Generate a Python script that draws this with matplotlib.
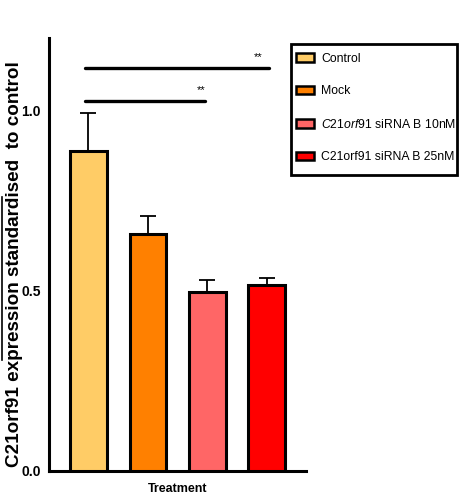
import matplotlib
matplotlib.use("Agg")
import matplotlib.pyplot as plt
from matplotlib.patches import Patch, Rectangle
from matplotlib.lines import Line2D

plt.rcParams['mathtext.fontset'] = 'custom'
plt.rcParams['mathtext.rm'] = 'Liberation Sans'
plt.rcParams['mathtext.it'] = 'Liberation Sans:italic'
plt.rcParams['mathtext.bf'] = 'Liberation Sans:bold'

narrow = ['Liberation Sans Narrow', 'Liberation Sans', 'DejaVu Sans']
wide = ['Liberation Sans', 'DejaVu Sans']

categories = ['Control', 'Mock', 'C21orf91 siRNA B 10nM', 'C21orf91 siRNA B 25nM']
values = [0.886, 0.656, 0.495, 0.514]
errors = [0.107, 0.050, 0.033, 0.021]
colors = ['#FFCC66', '#FF8000', '#FF6666', '#FF0000']
yticks = [0.0, 0.5, 1.0]
ytick_labels = ['0.0', '0.5', '1.0']
sig_pairs = [(0, 2, 1.025), (0, 3, 1.116)]
sig_text = '**'

fig = plt.figure(figsize=(4.62, 4.95), dpi=100)
ax = fig.add_axes([0.106, 0.049, 0.556, 0.874])

x = list(range(len(categories)))
ax.bar(x, values, width=0.62, color=colors, edgecolor='black', linewidth=2.2, zorder=3)
ax.errorbar(x, values, yerr=[[0]*len(errors), errors], fmt='none', ecolor='black',
            elinewidth=1.3, capsize=5.5, capthick=1.3, zorder=2)

line_ends = {2: -0.04, 3: 0.03}
star_offsets = {2: -0.06, 3: -0.17}
for a, b, h in sig_pairs:
    xe = b + line_ends[b]
    ax.plot([a - 0.06, xe], [h, h], color='black', lw=2.4, solid_capstyle='round', zorder=4)
    ax.text(xe + star_offsets[b], h + 0.018, sig_text, ha='center', va='bottom',
            fontsize=8, family=narrow)

ax.set_xlim(-0.664, 3.655)
ax.set_ylim(0, 1.2)
ax.set_yticks(yticks)
ax.set_yticklabels(ytick_labels, family=narrow, fontweight='bold', fontsize=10)
ax.set_xticks([])
ax.tick_params(axis='y', length=0, pad=6)
for s in ['top', 'right']:
    ax.spines[s].set_visible(False)
for s in ['left', 'bottom']:
    ax.spines[s].set_linewidth(2.2)

ax.set_xlabel('Treatment', family=narrow, fontweight='bold', fontsize=9, labelpad=9)
ax.set_ylabel('C21orf91 expression standardised  to control', family=wide,
              fontweight='bold', fontsize=13.6)
ax.yaxis.set_label_coords(-0.102, 0.477)

labels = ['Control', 'Mock', r'$\it{C21orf91}$ siRNA B 10nM', 'C21orf91 siRNA B 25nM']
handles = [Patch(facecolor=c, edgecolor='black', linewidth=1.8) for c in colors]
leg = fig.legend(handles, labels, loc='upper left', bbox_to_anchor=(291/462, 1 - 48/495),
                 prop={'family': narrow, 'size': 8.8}, frameon=False,
                 labelspacing=1.68, handlelength=1.45, handleheight=0.7,
                 borderpad=0.4, handletextpad=0.6, borderaxespad=0)
fig.add_artist(Rectangle((291/462, 1 - 175/495), 166/462, 131/495, transform=fig.transFigure,
                         fill=False, edgecolor='black', linewidth=2.0))

fig.add_artist(Line2D([1.5/462, 1.5/462], [1 - 197/495, 1 - 360/495], color='black', lw=1.2))

fig.savefig('out.png', dpi=100)
